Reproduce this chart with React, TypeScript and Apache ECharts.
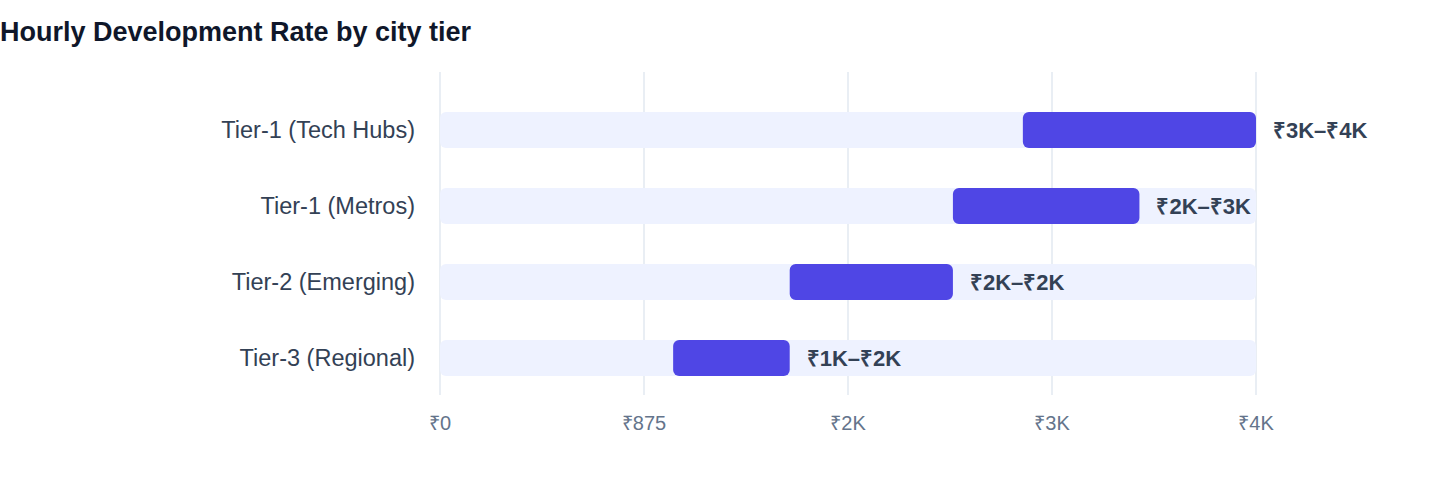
import * as echarts from "echarts";
import React, { useEffect, useRef } from "react";

const tiers = ["Tier-1 (Tech Hubs)", "Tier-1 (Metros)", "Tier-2 (Emerging)", "Tier-3 (Regional)"];
const rateLow = [2500, 2200, 1500, 1000];
const rateHigh = [3500, 3000, 2200, 1500];
const axisMax = 3500;
const axisStep = 875;

const FONT = "'Liberation Sans', Arial, Helvetica, sans-serif";

const fmtRupee = (v: number) => (v >= 1000 ? `₹${Math.round(v / 1000)}K` : `₹${v}`);

const App: React.FC = () => {
  const chartRef = useRef<HTMLDivElement | null>(null);

  useEffect(() => {
    if (!chartRef.current) return;
    const chart = echarts.init(chartRef.current, undefined, { renderer: "svg" });

    const option: echarts.EChartsOption = {
      animation: false,
      textStyle: { fontFamily: FONT },
      title: {
        text: "Hourly Development Rate by city tier",
        left: 0,
        top: 18,
        padding: 0,
        textStyle: { fontSize: 27, fontWeight: "bold", color: "#0F172A", fontFamily: FONT },
      },
      grid: [
        // bars
        { left: 440, right: 184, top: 92, height: 304 },
        // vertical grid lines + tick labels
        { left: 440, right: 184, top: 72, bottom: 89 },
      ],
      xAxis: [
        {
          type: "value",
          gridIndex: 0,
          min: 0,
          max: axisMax,
          interval: axisStep,
          show: false,
          splitLine: { show: false },
        },
        {
          type: "value",
          gridIndex: 1,
          min: 0,
          max: axisMax,
          interval: axisStep,
          axisLine: { show: false },
          axisTick: { show: false },
          splitLine: { show: true, lineStyle: { color: "#E2E8F0", width: 1.5 } },
          axisLabel: {
            margin: 18,
            fontSize: 20,
            color: "#64748B",
            fontFamily: FONT,
            formatter: (v: number) => fmtRupee(v),
          },
        },
      ],
      yAxis: [
        {
          type: "category",
          gridIndex: 0,
          data: tiers,
          inverse: true,
          axisLine: { show: false },
          axisTick: { show: false },
          axisLabel: { margin: 25, fontSize: 23.5, color: "#334155", fontFamily: FONT },
        },
        { type: "value", gridIndex: 1, show: false },
      ],
      series: [
        {
          type: "bar",
          name: "base",
          xAxisIndex: 0,
          yAxisIndex: 0,
          stack: "range",
          barWidth: 36,
          silent: true,
          data: rateLow,
          itemStyle: { color: "transparent" },
          showBackground: true,
          backgroundStyle: { color: "#EEF2FF", borderRadius: 6 },
        },
        {
          type: "bar",
          name: "rate",
          xAxisIndex: 0,
          yAxisIndex: 0,
          stack: "range",
          barWidth: 36,
          data: rateHigh.map((h, i) => h - rateLow[i]),
          itemStyle: { color: "#4F46E5", borderRadius: 6 },
          label: {
            show: true,
            position: "right",
            distance: 17,
            fontSize: 22,
            fontWeight: "bold",
            color: "#334155",
            fontFamily: FONT,
            formatter: (p: any) => `${fmtRupee(rateLow[p.dataIndex])}–${fmtRupee(rateHigh[p.dataIndex])}`,
          },
        },
      ],
    };

    chart.setOption(option);
    const handleResize = () => chart.resize();
    window.addEventListener("resize", handleResize);
    return () => {
      window.removeEventListener("resize", handleResize);
      chart.dispose();
    };
  }, []);

  return (
    <div
      ref={chartRef}
      style={{ position: "fixed", left: 0, top: 0, width: 1440, height: 484, background: "#fff" }}
    />
  );
};

export default App;
